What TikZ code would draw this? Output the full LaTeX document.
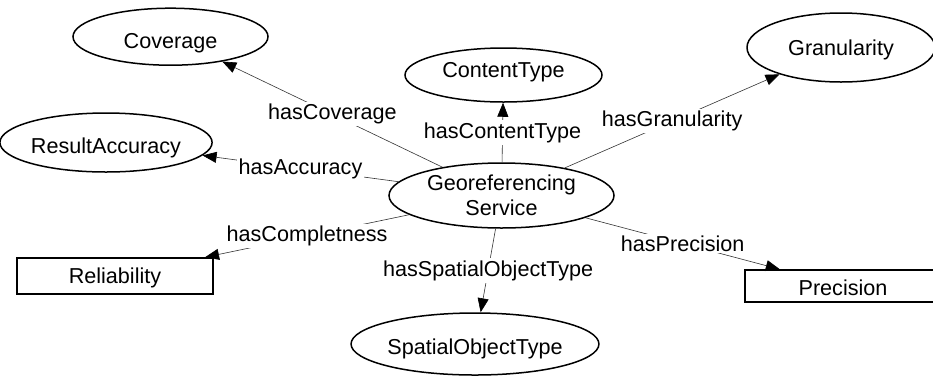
\documentclass[tikz,border=0pt]{standalone}
\usepackage{fontspec}
\setmainfont{Liberation Sans}
\usetikzlibrary{shapes.geometric,arrows.meta}
\begin{document}
\begin{tikzpicture}[x=1pt,y=-1pt,
  font=\fontsize{21.6}{25}\selectfont,
  concept/.style={ellipse, draw, line width=1.5pt, inner sep=0pt,
                  text height=15pt, text depth=0pt},
  service/.style={ellipse, draw, line width=1.5pt, inner sep=0pt, align=center},
  term/.style={rectangle, draw, line width=1.5pt, inner sep=0pt,
               text height=15pt, text depth=0pt},
  rel/.style={line width=0.6pt, draw=black!80,
              -{Triangle[length=14pt,width=11pt,color=black]}},
  lbl/.style={fill=white, inner sep=2pt, midway, text=black}]

\useasboundingbox (0,0) rectangle (933,376);
\clip (0,0) rectangle (933,376);

% central service
\node[service, minimum width=225pt, minimum height=65pt] (geo) at (501.5,195.5)
  {Georeferencing\\Service};

% related concepts
\node[concept, minimum width=195pt, minimum height=57pt] (cov) at (170.5,36.7)
  {\raisebox{-4pt}{Coverage}};
\node[concept, minimum width=196pt, minimum height=59pt] (acc) at (106,142.5)
  {\raisebox{-3pt}{ResultAccuracy}};
\node[concept, minimum width=197pt, minimum height=54pt] (ctype) at (503.5,75)
  {\raisebox{5pt}{ContentType}};
\node[concept, minimum width=188pt, minimum height=69pt] (gran) at (841,47.5)
  {Granularity};
\node[concept, minimum width=224pt, minimum height=62pt] (spat) at (475,344)
  {\raisebox{-2.5pt}{SpatialObjectType}};
\node[term, minimum width=196pt, minimum height=36pt] (rel) at (115,276)
  {Reliability};
\node[term, minimum width=196pt, minimum height=32pt] (prec) at (843,286)
  {\raisebox{-2pt}{Precision}};

% properties
\draw[rel] (geo) -- node[lbl] {hasCoverage} (cov);
\draw[rel] (geo) -- node[lbl] {hasAccuracy} (acc);
\draw[rel] (geo) -- node[lbl] {hasContentType} (ctype);
\draw[rel] (geo) -- node[lbl] {hasGranularity} (gran);
\draw[rel] (geo) -- node[lbl] {hasCompletness} (rel);
\draw[rel] (geo) -- node[lbl] {hasSpatialObjectType} (spat);
\draw[rel] (geo) -- node[lbl] {hasPrecision} (prec);

\end{tikzpicture}
\end{document}
